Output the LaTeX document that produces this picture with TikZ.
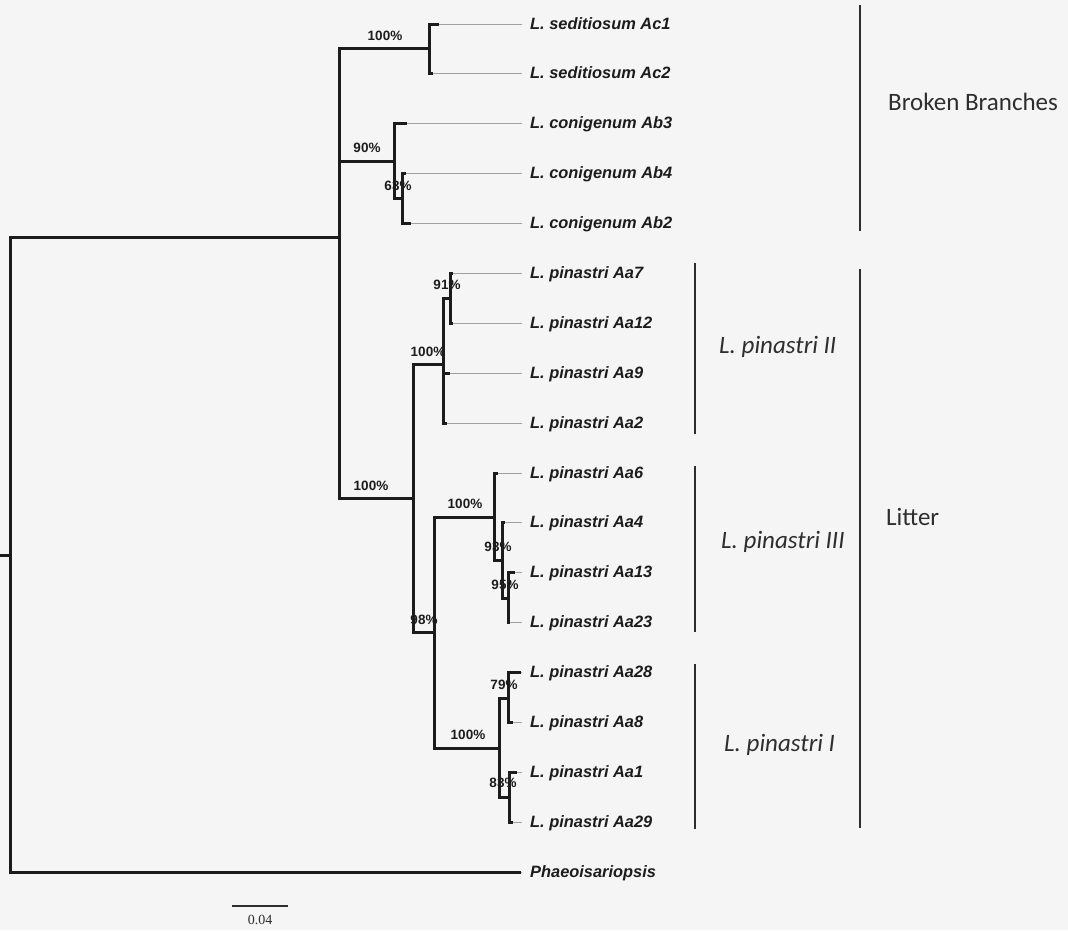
\documentclass[tikz,border=0pt]{standalone}
\usepackage{fontspec}
\setmainfont{Liberation Sans}
\newfontfamily\grpfont{Carlito}
\newfontfamily\scalefont{Liberation Serif}
\definecolor{bg}{HTML}{F5F5F5}
\definecolor{ink}{HTML}{1C1C1C}
\definecolor{guidec}{HTML}{A0A0A0}
\definecolor{barc}{HTML}{2E2E2E}
\begin{document}
\begin{tikzpicture}[x=1pt,y=-1pt,
  br/.style={line width=3pt, draw=ink, line join=miter},
  guideline/.style={line width=0.9pt, draw=guidec},
  leaf/.style={anchor=west, inner xsep=8pt, inner ysep=0pt, text height=11.7pt, text depth=0pt,
     font=\fontsize{16.4}{18}\selectfont\bfseries\itshape, text=ink},
  bs/.style={inner sep=0pt, text height=9.6pt, text depth=0pt, font=\fontsize{13.5}{14}\selectfont\bfseries, text=ink},
  grp/.style={anchor=west, inner sep=0pt, text height=16pt, text depth=0pt, font=\grpfont\fontsize{25}{28}\selectfont, text=barc},
  barline/.style={line width=2pt, draw=barc}
]
\useasboundingbox (0,0) rectangle (1068,930);
\fill[bg] (0,0) rectangle (1068,930);

% internal nodes
\coordinate (r0) at (0,555);
\coordinate (R) at (10,555);
\coordinate (G) at (339,237);
\coordinate (S) at (429,48);
\coordinate (C) at (394,161);
\coordinate (C2) at (402,198);
\coordinate (P) at (413,498);
\coordinate (II) at (443,364);
\coordinate (II1) at (450,298);
\coordinate (N98) at (434,632);
\coordinate (III) at (494,517);
\coordinate (III1) at (502,560);
\coordinate (III2) at (508,598);
\coordinate (I) at (499,748);
\coordinate (I1) at (508,698);
\coordinate (I2) at (509,797);

% leaf branch ends
\coordinate (tAc1) at (439,24);
\coordinate (tAc2) at (433,73);
\coordinate (tAb3) at (407,123);
\coordinate (tAb4) at (406,173);
\coordinate (tAb2) at (411,223);
\coordinate (tAa7) at (453,273);
\coordinate (tAa12) at (453,323);
\coordinate (tAa9) at (450,373);
\coordinate (tAa2) at (447,423);
\coordinate (tAa6) at (498,473);
\coordinate (tAa4) at (505,522);
\coordinate (tAa13) at (515,572);
\coordinate (tAa23) at (510,622);
\coordinate (tAa28) at (521,672);
\coordinate (tAa8) at (513,722);
\coordinate (tAa1) at (517,772);
\coordinate (tAa29) at (513,822);
\coordinate (tPh) at (521,872);

% leaf labels
\node[leaf] (lAc1) at (522,24) {L. seditiosum Ac1};
\node[leaf] (lAc2) at (522,73) {L. seditiosum Ac2};
\node[leaf] (lAb3) at (522,123) {L. conigenum Ab3};
\node[leaf] (lAb4) at (522,173) {L. conigenum Ab4};
\node[leaf] (lAb2) at (522,223) {L. conigenum Ab2};
\node[leaf] (lAa7) at (522,273) {L. pinastri Aa7};
\node[leaf] (lAa12) at (522,323) {L. pinastri Aa12};
\node[leaf] (lAa9) at (522,373) {L. pinastri Aa9};
\node[leaf] (lAa2) at (522,423) {L. pinastri Aa2};
\node[leaf] (lAa6) at (522,473) {L. pinastri Aa6};
\node[leaf] (lAa4) at (522,522) {L. pinastri Aa4};
\node[leaf] (lAa13) at (522,572) {L. pinastri Aa13};
\node[leaf] (lAa23) at (522,622) {L. pinastri Aa23};
\node[leaf] (lAa28) at (522,672) {L. pinastri Aa28};
\node[leaf] (lAa8) at (522,722) {L. pinastri Aa8};
\node[leaf] (lAa1) at (522,772) {L. pinastri Aa1};
\node[leaf] (lAa29) at (522,822) {L. pinastri Aa29};
\node[leaf] (lPh) at (522,872) {Phaeoisariopsis};

% guide lines from branch ends to labels
\foreach \n in {Ac1,Ac2,Ab3,Ab4,Ab2,Aa7,Aa12,Aa9,Aa2,Aa6,Aa4,Aa13,Aa23,Aa28,Aa8,Aa1,Aa29,Ph}
  \draw[guideline] (t\n) -- (l\n.west);

% tree branches
\draw[br] (r0) -- (R);
\foreach \a/\b in {R/G, R/tPh, G/S, G/C, G/P, S/tAc1, S/tAc2, C/tAb3, C/C2, C2/tAb4, C2/tAb2,
    P/II, P/N98, II/II1, II/tAa9, II/tAa2, II1/tAa7, II1/tAa12, N98/III, N98/I,
    III/tAa6, III/III1, III1/tAa4, III1/III2, III2/tAa13, III2/tAa23,
    I/I1, I/I2, I1/tAa28, I1/tAa8, I2/tAa1, I2/tAa29}
  \draw[br] (\a) |- (\b);

% bootstrap values
\node[bs] (bS) at (385,36) {100\%};
\node[bs] (bC) at (367,148) {90\%};
\node[bs] (bC2) at (398,186) {63\%};
\node[bs] (bP) at (371,486) {100\%};
\node[bs] (bII) at (428,352) {100\%};
\node[bs] (bII1) at (447,285) {91\%};
\node[bs] (b98) at (424,620) {98\%};
\node[bs] (bIII) at (465,504) {100\%};
\node[bs] (bIII1) at (498,547) {93\%};
\node[bs] (bIII2) at (505,585) {95\%};
\node[bs] (bI) at (468,735) {100\%};
\node[bs] (bI1) at (504,685) {79\%};
\node[bs] (bI2) at (503,783) {83\%};

% group bars
\draw[barline] (860,5) -- (860,231);
\draw[barline] (860,269) -- (860,828);
\draw[barline] (695,263) -- (695,434);
\draw[barline] (695,466) -- (695,632);
\draw[barline] (695,664) -- (695,829);

\node[grp] (gBB) at (888,102) {Broken Branches};
\node[grp] (gLit) at (886,517) {Litter};
\node[grp] (gII) at (719,345) {\itshape L. pinastri II};
\node[grp] (gIII) at (721,540) {\itshape L. pinastri III};
\node[grp] (gI) at (724,743) {\itshape L. pinastri I};

% scale bar
\coordinate (sb1) at (232,906);
\coordinate (sb2) at (288,906);
\draw[line width=1.2pt, draw=barc] (sb1) -- (sb2);
\node[inner sep=0pt, font=\scalefont\fontsize{14}{15}\selectfont, text=barc] (sbl) at (260,920) {0.04};
\end{tikzpicture}
\end{document}
